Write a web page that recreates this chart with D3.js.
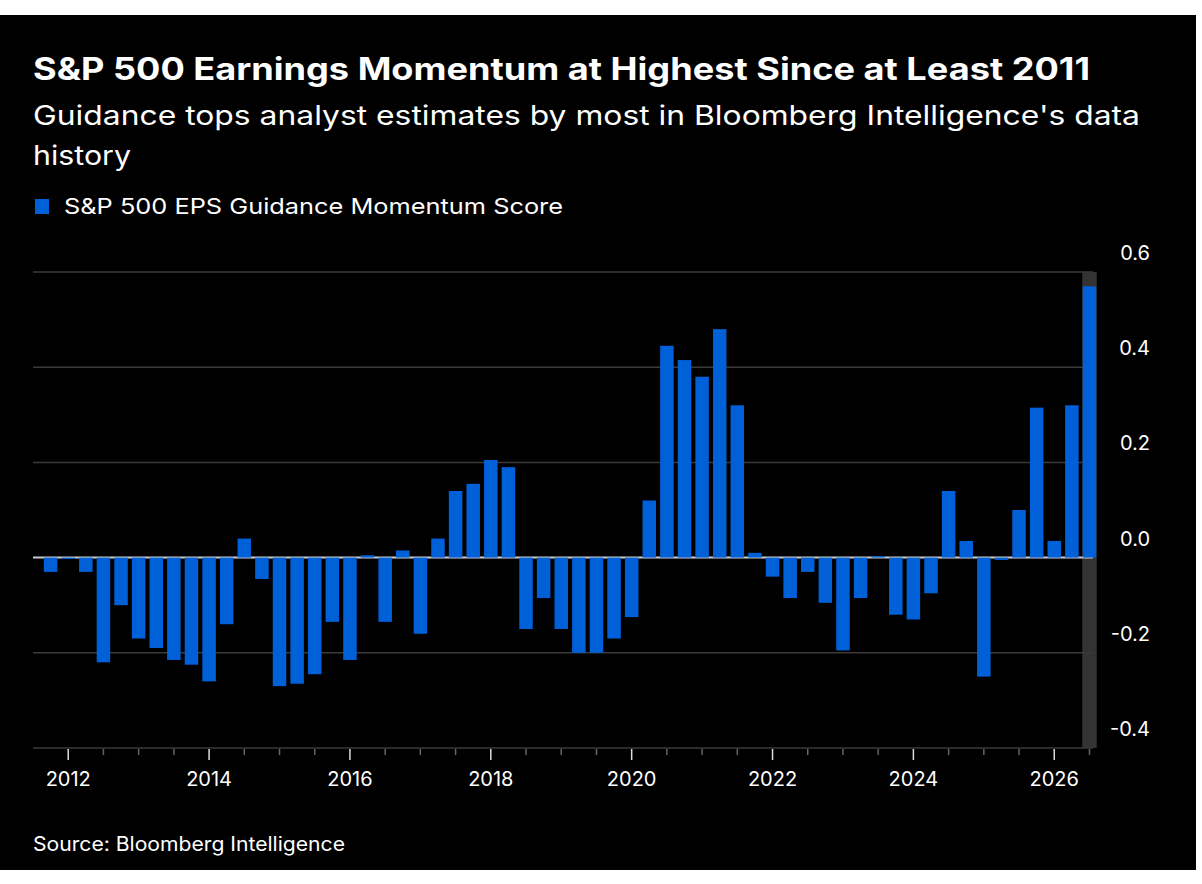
<!DOCTYPE html>
<html><head><meta charset="utf-8">
<script src="https://cdn.jsdelivr.net/npm/d3@7"></script>
<style>body{margin:0;background:#fff}svg{display:block;font-family:Inter,"Liberation Sans",Arial,sans-serif}</style>
</head><body><svg id="c" width="1202" height="884"></svg>
<script>
const startYear = 2011.75, step = 0.25;
const values = [-0.03,-0.003,-0.03,-0.22,-0.1,-0.17,-0.19,-0.215,-0.225,-0.26,-0.14,0.04,-0.045,-0.27,-0.265,-0.245,-0.135,-0.215,0.005,-0.135,0.015,-0.16,0.04,0.14,0.155,0.205,0.19,-0.15,-0.085,-0.15,-0.2,-0.2,-0.17,-0.125,0.12,0.445,0.415,0.38,0.48,0.32,0.01,-0.04,-0.085,-0.03,-0.095,-0.195,-0.085,0.003,-0.12,-0.13,-0.075,0.14,0.035,-0.25,-0.005,0.1,0.315,0.035,0.32,0.57];
const yTicks = [-0.4,-0.2,0,0.2,0.4,0.6];
const xTickYears = [2012,2014,2016,2018,2020,2022,2024,2026];
const svg = d3.select("#c");
svg.append("rect").attr("x",0).attr("y",15).attr("width",1196).attr("height",855).attr("fill","#000");
const x = d3.scaleLinear().domain([2011.5,2026.55]).range([33,1093]);
const y = d3.scaleLinear().domain([-0.4,0.6]).range([748,272]);
const bw = 13.5;
const last = startYear + step*(values.length-1);
svg.append("rect").attr("x",x(last)-bw/2-0.5).attr("y",y(0.6)).attr("width",bw+1).attr("height",y(-0.4)-y(0.6)).attr("fill","#333");
svg.append("g").selectAll("line").data(yTicks).join("line")
 .attr("x1",33).attr("x2",1093).attr("y1",d=>y(d)).attr("y2",d=>y(d))
 .attr("stroke",d=>d===0?"#ccc":"#3a3a3a").attr("stroke-width",d=>d===0?2:1.5);
svg.append("g").selectAll("text").data(yTicks).join("text")
 .attr("x",1150).attr("y",d=>y(d)-12).attr("text-anchor","end").attr("fill","#fff").attr("font-size",20)
 .text(d=>d3.format(".1f")(d).replace("−","-"));
svg.append("g").selectAll("rect").data(values).join("rect")
 .attr("x",(d,i)=>x(startYear+step*i)-bw/2).attr("width",bw)
 .attr("y",d=>y(Math.max(0,d))).attr("height",d=>Math.max(1,Math.abs(y(d)-y(0))))
 .attr("fill","#0060d8");
const minor = d3.range(2012,2026.6,0.5);
svg.append("g").selectAll("line").data(minor).join("line")
 .attr("x1",d=>x(d)).attr("x2",d=>x(d)).attr("y1",749).attr("y2",d=>Number.isInteger(d)&&d%2===0?760:755)
 .attr("stroke",d=>Number.isInteger(d)&&d%2===0?"#ddd":"#666").attr("stroke-width",1.5);
svg.append("g").selectAll("text").data(xTickYears).join("text")
 .attr("x",d=>x(d)).attr("y",786).attr("text-anchor","middle").attr("fill","#fff").attr("font-size",20).text(d=>d);
function txt(xx,yy,size,w,len,s){svg.append("text").attr("x",xx).attr("y",yy).attr("fill","#fff").attr("font-size",size).attr("font-weight",w).attr("textLength",len).attr("lengthAdjust","spacingAndGlyphs").text(s);}
txt(33,80,31,"bold",1057,"S&P 500 Earnings Momentum at Highest Since at Least 2011");
txt(33,125,27,"normal",1107,"Guidance tops analyst estimates by most in Bloomberg Intelligence's data");
txt(33,165,27,"normal",98,"history");
svg.append("rect").attr("x",35).attr("y",199).attr("width",14).attr("height",15).attr("fill","#0060d8");
txt(64,214,22,"normal",499,"S&P 500 EPS Guidance Momentum Score");
txt(33,851,20,"normal",312,"Source: Bloomberg Intelligence");
</script></body></html>
